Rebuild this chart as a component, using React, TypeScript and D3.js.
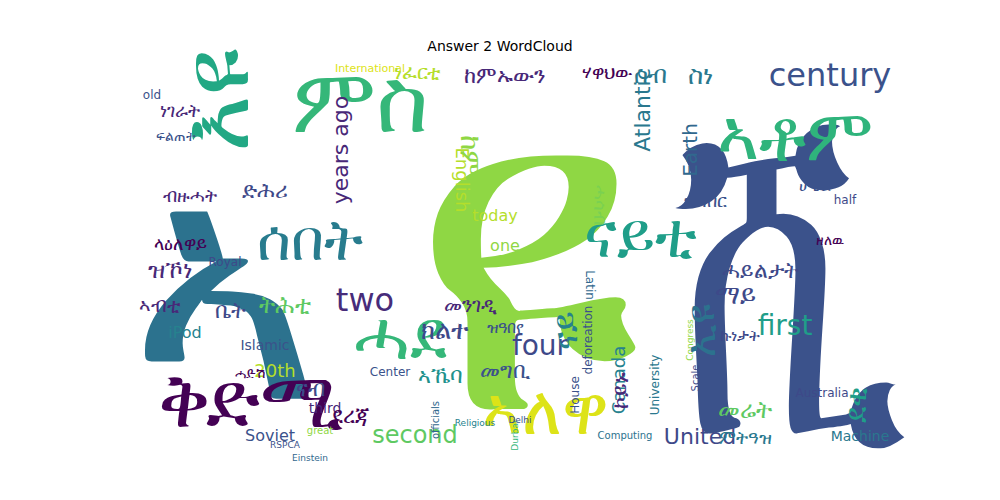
import React from "react";
import * as d3 from "d3";

// word, x, y, size, rotation, colour (viridis)
const words: string[] = ["ዩ","ሺ","ኣ","ቅድሚ","ኣቶም","ምስ","እዩ","ሰበት","ሓደ","ናይቲ","ኣለዋ","century","years ago","two","four","second","United","first","Atlantic","English","Earth","today","one","Canada","20th","third","Soviet","iPod","Machine","Islamic","Royal","Latin","House","deforeation","University","Australia","Center","International","old","half","officials","Computing","Religious","Scale","Einstein","great","RSPCA","Durbar","Delhi","Congress","ከምኡውን","ነፈርቲ","ሃዋህው","ሰብ","ስነ","ነገራት","ፍልጠት","ብዙሓት","ላዕለዋይ","ዝኾነ","ኣብቲ","ቤት","ትሕቲ","ድሕሪ","ደረጃ","ናብ","ሓድሽ","መንገዲ","ክልተ","ዝዓበየ","መግቢ","ኣኼባ","ሓይልታት","ማይ","ኩነታት","መሬት","ምትዓዝ","ሆቴል","ዝግበር","ደቂ","ከም","ኢዩ","ናይ","ኮይኑ","ሓሳብ","ዘለዉ"];
const xs: number[] = [525,790,225,250,795,360,215,310,400,640,545,830,340,365,540,415,700,785,642,462,690,495,505,618,275,325,270,185,860,265,225,590,575,588,655,822,390,370,152,845,435,625,475,695,310,320,285,515,520,690,505,417,607,650,700,180,175,190,180,170,160,230,285,265,350,310,250,470,445,505,505,440,760,735,740,745,745,815,705,855,470,700,565,620,600,830];
const ys: number[] = [250,265,285,400,135,100,100,240,335,235,410,75,150,300,345,435,436,325,110,180,150,215,245,380,370,408,435,332,436,345,262,285,395,340,385,393,372,68,95,200,420,435,423,378,458,430,445,435,420,340,75,72,72,75,75,110,136,195,243,270,305,310,305,190,415,388,373,305,330,327,370,375,270,295,335,410,437,185,200,405,155,330,330,390,205,240];
const sizes: number[] = [460,480,330,78,72,90,95,58,68,62,68,32,22,32,28,24,22,28,22,18,20,16,16,18,18,14,16,16,14,14,12,12,12,12,12,12,12,11,12,12,10,10,9,10,9,10,9,9,9,9,22,20,18,24,26,18,14,18,18,24,20,22,24,22,22,22,14,20,26,16,22,22,22,26,16,24,18,16,18,30,28,40,34,22,18,14];
const rots: number[] = [0,0,0,0,0,0,-90,0,0,0,0,0,-90,0,0,0,0,0,-90,90,-90,0,0,-90,0,0,0,0,0,0,0,90,-90,-90,-90,0,0,0,0,0,-90,0,0,-90,0,0,0,-90,0,-90,0,0,0,0,0,0,0,0,0,0,0,0,0,0,0,0,0,0,0,0,0,0,0,0,0,0,0,0,0,-90,90,-90,-90,-90,90,0];
const stretch: number[] = words.map((_, i) => (i === 1 ? 0.6 : 1));
const colors: string[] = ["#8fd744","#3b528b","#2c728e","#440154","#2fb47c","#35b779","#22a884","#287c8e","#35b779","#1f9e89","#dde318","#3b528b","#482878","#472c7a","#3e4989","#5ec962","#3e4989","#1f9e89","#2a788e","#b5de2b","#31688e","#b5de2b","#8fd744","#26828e","#b5de2b","#482878","#3b528b","#26828e","#2a788e","#3b528b","#3e4989","#31688e","#3b528b","#3b528b","#2a788e","#3e4989","#3b528b","#dde318","#3b528b","#3e4989","#31688e","#2c728e","#26828e","#3e4989","#31688e","#8fd744","#3b528b","#35b779","#3b528b","#8fd744","#482878","#b5de2b","#440154","#2a788e","#2a788e","#482878","#3b528b","#482878","#440154","#482878","#482878","#3e4989","#5ec962","#3e4989","#440154","#3e4989","#440154","#482878","#3e4989","#3b528b","#3b528b","#21918c","#3e4989","#3e4989","#3e4989","#5ec962","#2a788e","#3b528b","#3b528b","#1f9e89","#8fd744","#2c728e","#26828e","#482878","#7ad151","#440154"];

export default function App() {
  const font = d3.format(".0f");
  return (
    <svg width={1000} height={500} style={{ position: "absolute", left: 0, top: 0, background: "#fff" }}
      fontFamily="'DejaVu Sans', 'Noto Sans', sans-serif">
      <rect width={1000} height={500} fill="#fff" />
      <text x={500} y={51} textAnchor="middle" fontSize={14} fill="#000">Answer 2 WordCloud</text>
      <g>
        {words.map((w, i) => (
          <text key={i} textAnchor="middle" dominantBaseline="central"
            transform={`translate(${xs[i]},${ys[i]}) rotate(${rots[i]}) scale(${stretch[i]},1)`}
            fontSize={font(sizes[i])} fill={colors[i]}>{w}</text>
        ))}
      </g>
    </svg>
  );
}
